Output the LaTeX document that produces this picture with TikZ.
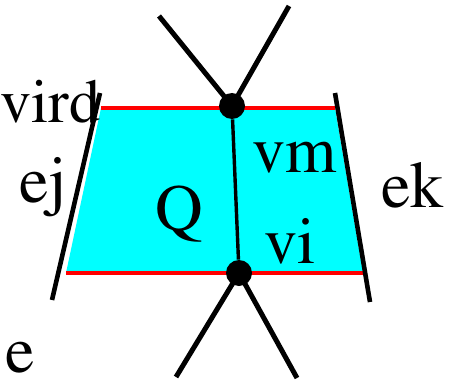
\documentclass[tikz,border=0pt]{standalone}
\usepackage[T1]{fontenc}
\usepackage{times}
\usepackage{tikz}
\usetikzlibrary{calc}
\definecolor{facecyan}{RGB}{0,255,255}
\definecolor{cutred}{RGB}{255,0,0}

\begin{document}
\begin{tikzpicture}[
    x=0.5pt, y=-0.5pt,
    dot/.style={circle, fill=black, inner sep=0pt, minimum size=13pt},
    edge/.style={line width=2.5pt, black},
    cut/.style={line width=2.3pt, cutred},
    lbl/.style={inner sep=0pt, font=\rmfamily\fontsize{33}{38}\selectfont},
]
\useasboundingbox (0,0) rectangle (449,385);

% face
\fill[facecyan] (101,108) -- (335,108) -- (363,273) -- (66,273) -- cycle;
\draw[cut] (101,108) -- (335,108);
\draw[cut] (66,273) -- (363,273);

% side edges
\coordinate (ejtop) at (100,93);
\coordinate (ejbot) at (52,300);
\coordinate (ektop) at (335,93);
\coordinate (ekbot) at (370,302);
\draw[edge, line width=2.3pt] (ejtop) -- (ejbot);
\draw[edge, line width=2.3pt] (ektop) -- (ekbot);

% vertices
\node[dot] (vm) at (232,106) {};
\node[dot] (vi) at (239,273) {};
\coordinate (tl) at (159,16);
\coordinate (tr) at (289,6);
\coordinate (bl) at (176,377);
\coordinate (br) at (297,378);

\draw[edge, line width=1.7pt] (vm) -- (vi);
\draw[edge] (tl) -- (vm.center) -- (tr);
\draw[edge] (bl) -- (vi.center) -- (br);

% labels
\node[lbl, anchor=base west, font=\rmfamily\fontsize{31}{36}\selectfont] (lvird) at (0,122) {vird};
\node[lbl, anchor=base west] (lej) at (19,202) {ej};
\node[lbl, anchor=base west] (lQ) at (155,230) {Q};
\node[lbl, anchor=base west] (lvm) at (252,172) {vm};
\node[lbl, anchor=base west] (lvi) at (264,263) {vi};
\node[lbl, anchor=base west] (lek) at (381,207) {ek};
\node[lbl, anchor=base west] (le) at (5,372) {e};
\end{tikzpicture}
\end{document}
